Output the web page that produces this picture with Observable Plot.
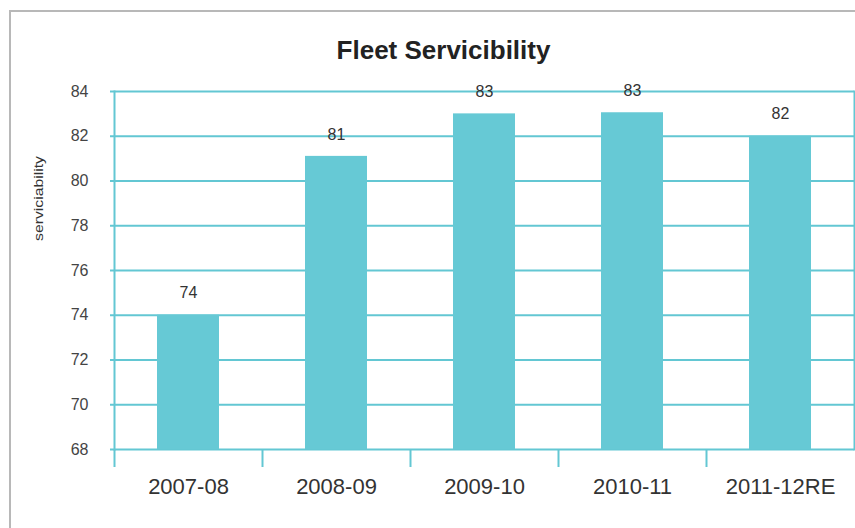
<!DOCTYPE html>
<html>
<head>
<meta charset="utf-8">
<script src="https://cdn.jsdelivr.net/npm/d3@7"></script>
<script src="https://cdn.jsdelivr.net/npm/@observablehq/plot@0.6"></script>
<style>
  html, body { margin: 0; padding: 0; background: #fff; }
  #wrap { position: relative; width: 855px; height: 528px; overflow: hidden; font-family: "Liberation Sans", Arial, sans-serif; }
  #border { position: absolute; left: 9px; top: 10px; width: 900px; height: 600px; border-left: 2px solid #b8b8b8; border-top: 2px solid #b8b8b8; box-sizing: border-box; }
  #chart { position: absolute; left: 0; top: 0; }
</style>
</head>
<body>
<div id="wrap"><div id="border"></div><div id="chart"></div></div>
<script>
const title = "Fleet Servicibility";
const yLabel = "serviciability";
const years = ["2007-08", "2008-09", "2009-10", "2010-11", "2011-12RE"];
const servicability = [74, 81.1, 83, 83.05, 82];
const valueLabels = ["74", "81", "83", "83", "82"];
const yTicks = [68, 70, 72, 74, 76, 78, 80, 82, 84];

const data = years.map((year, i) => ({year, value: servicability[i], label: valueLabels[i]}));

const cyan = "#63c7d3";
const barColor = "#66c9d5";
const width = 855, height = 528;
const marginLeft = 114, marginRight = 0, marginTop = 91, marginBottom = 79;
const bw = (width - marginLeft - marginRight - 1) / years.length;

const chart = Plot.plot({
  width, height, marginLeft, marginRight: 1, marginTop, marginBottom,
  style: {fontFamily: "'Liberation Sans', Arial, sans-serif", background: "transparent"},
  x: {domain: years, padding: 0, label: null},
  y: {domain: [68, 84], label: null},
  marks: [
    Plot.gridY(yTicks, {stroke: cyan, strokeOpacity: 1, strokeWidth: 2}),
    Plot.axisY(yTicks, {tickSize: 4, tickPadding: 22, stroke: cyan, strokeWidth: 2, fill: "#444", fontSize: 16, label: null}),
    Plot.frame({anchor: "left", stroke: cyan, strokeWidth: 2}),
    Plot.frame({anchor: "right", stroke: cyan, strokeWidth: 2}),
    Plot.barY(data, {x: "year", y1: 68, y2: "value", fill: barColor, insetLeft: 43, insetRight: 43}),
    Plot.axisX({tickSize: 18, tickFormat: () => "", dx: -bw / 2, stroke: cyan, strokeWidth: 2, label: null}),
    Plot.axisX({tickSize: 0, tickPadding: 29, fontSize: 22, fill: "#333", label: null}),
    Plot.text(data, {x: "year", y: "value", text: "label", dy: -22, fontSize: 16, fill: "#333"}),
    Plot.text([title], {frameAnchor: "top", lineAnchor: "middle", dy: -41, dx: -41, fontSize: 26, fontWeight: "bold", fill: "#222"}),
    Plot.text([yLabel], {frameAnchor: "left", textAnchor: "middle", dx: -75, dy: -72, rotate: -90, fontSize: 12, fill: "#333", className: "ylabel"})
  ]
});
d3.select(chart).selectAll(".ylabel text").attr("textLength", 85).attr("lengthAdjust", "spacingAndGlyphs");
document.getElementById("chart").append(chart);
</script>
</body>
</html>
